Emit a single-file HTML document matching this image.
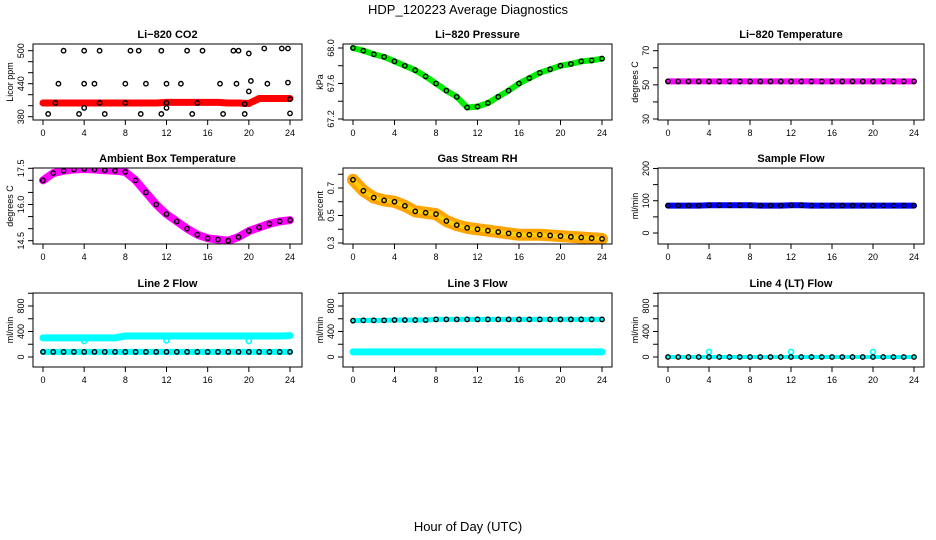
<!DOCTYPE html>
<html><head><meta charset="utf-8"><style>
body{margin:0;background:#fff}
svg{display:block;font-family:"Liberation Sans",sans-serif}
</style></head><body>
<svg id="c" width="936" height="540" viewBox="0 0 936 540">
<text x="468" y="14" text-anchor="middle" font-size="13">HDP_120223  Average Diagnostics</text>
<text x="468" y="531" text-anchor="middle" font-size="13">Hour of Day (UTC)</text>
</svg>
<script>
const hours=[0,1,2,3,4,5,6,7,8,9,10,11,12,13,14,15,16,17,18,19,20,21,22,23,24];
const xTicks=[0,4,8,12,16,20,24];
const co2Red=[405,405,405,405,405,405,405,405,405,405,405,405,406,406,406,406,406,406,405,405,404,413,413,413,413];
const co2ScX=[2,4,5.5,8.5,9.3,11.5,14,15.5,18.5,19,21.5,23.2,23.8,20,1.5,4,5,8,10,12,13.4,17.2,18.8,21.8,23.8,20.2,0.5,3.5,6,9.5,11.5,14.5,17.5,19.6,24,1.2,5.5,8,12,15,19.6,24,20,4,12];
const co2ScY=[500,500,500,500,500,500,500,500,500,500,504,504,504,495,440,440,440,440,440,440,440,440,440,440,442,445,385,385,385,385,385,385,385,385,386,405,405,405,405,405,403,412,426,396,396];
const pres=[68.0,67.97,67.93,67.9,67.85,67.8,67.75,67.68,67.6,67.52,67.45,67.33,67.34,67.38,67.45,67.52,67.6,67.66,67.72,67.76,67.8,67.82,67.85,67.86,67.88];
const tempLi=[52,52,52,52,52,52,52,52,52,52,52,52,52,52,52,52,52,52,52,52,52,52,52,52,52];
const ambient=[17.0,17.3,17.4,17.45,17.47,17.45,17.42,17.4,17.35,17.0,16.5,16.0,15.6,15.3,15.0,14.75,14.6,14.55,14.5,14.65,14.9,15.05,15.2,15.3,15.35];
const rh=[0.76,0.68,0.63,0.61,0.6,0.57,0.53,0.52,0.51,0.46,0.43,0.41,0.4,0.39,0.38,0.37,0.36,0.36,0.36,0.355,0.35,0.345,0.34,0.335,0.33];
const sampleFlow=[85,85,85,85,86,86,86,86,86,85,85,85,86,86,85,85,85,85,85,85,85,85,85,85,85];
const line2Cyan=[300,300,300,300,300,300,300,300,330,330,330,330,330,330,330,330,330,330,330,330,330,330,330,330,335];
const line2Black=[80,80,80,80,80,80,80,80,80,80,80,80,80,80,80,80,80,80,80,80,80,80,80,80,80];
const line3Black=[570,575,575,575,580,580,580,580,590,590,590,590,590,590,590,590,590,590,590,590,590,590,590,590,590];
const line3Cyan=[80,80,80,80,80,80,80,80,80,80,80,80,80,80,80,80,80,80,80,80,80,80,80,80,80];
const line4=[0,0,0,0,0,0,0,0,0,0,0,0,0,0,0,0,0,0,0,0,0,0,0,0,0];
const outX=[4,12,20];
const line2Out=[250,260,250];
const line4Out=[80,80,80];

const NS="http://www.w3.org/2000/svg";
const svg=document.getElementById('c');
function mk(t,a,p){const e=document.createElementNS(NS,t);for(const k in a)e.setAttribute(k,a[k]);(p||svg).appendChild(e);return e;}
const cols=[{x0:43,x24:290,L:33,R:302},{x0:353,x24:602,L:343,R:612},{x0:668,x24:914,L:658,R:924}];
const rows=[{T:44,B:120},{T:168,B:244},{T:293,B:367}];
const panels=[
 {t:"Li\u2212820 CO2",yl:"Licor ppm",c:0,r:0,v1:380,p1:116.7,v2:500,p2:50.7,tk:[380,400,420,440,460,480,500],lb:[380,440,500],
  series:[{y:co2Red,col:"#f00",w:7}],sc:{x:co2ScX,y:co2ScY}},
 {t:"Li\u2212820 Pressure",yl:"kPa",c:1,r:0,v1:67.2,p1:119,v2:68.0,p2:48,tk:[67.2,67.4,67.6,67.8,68.0],lb:[67.2,67.6,68.0],fmt:1,
  series:[{y:pres,col:"#00ee00",w:6}],dots:pres},
 {t:"Li\u2212820 Temperature",yl:"degrees C",c:2,r:0,v1:30,p1:119,v2:70,p2:50.7,tk:[30,40,50,60,70],lb:[30,50,70],
  series:[{y:tempLi,col:"#f0f",w:6}],dots:tempLi},
 {t:"Ambient Box Temperature",yl:"degrees C",c:0,r:1,v1:14.5,p1:240.7,v2:17.5,p2:168.3,tk:[14.5,15,15.5,16,16.5,17,17.5],lb:[14.5,16.0,17.5],fmt:1,
  series:[{y:ambient,col:"#f0f",w:8}],dots:ambient},
 {t:"Gas Stream RH",yl:"percent",c:1,r:1,v1:0.3,p1:243,v2:0.7,p2:188,tk:[0.3,0.4,0.5,0.6,0.7,0.8],lb:[0.3,0.5,0.7],fmt:1,
  series:[{y:rh,col:"#ffa500",w:12},{y:rh,col:"#ffd000",w:4}],dots:rh},
 {t:"Sample Flow",yl:"ml/min",c:2,r:1,v1:0,p1:233,v2:200,p2:168.5,tk:[0,50,100,150,200],lb:[0,100,200],
  series:[{y:sampleFlow,col:"#00f",w:6}],dots:sampleFlow},
 {t:"Line 2 Flow",yl:"ml/min",c:0,r:2,v1:0,p1:357,v2:800,p2:306,tk:[0,200,400,600,800,1000],lb:[0,400,800],
  series:[{y:line2Cyan,col:"#0ff",w:7},{y:line2Black,col:"#0ff",w:6}],dots:line2Black,out:{x:outX,y:line2Out}},
 {t:"Line 3 Flow",yl:"ml/min",c:1,r:2,v1:0,p1:357,v2:800,p2:306,tk:[0,200,400,600,800,1000],lb:[0,400,800],
  series:[{y:line3Cyan,col:"#0ff",w:7},{y:line3Black,col:"#0ff",w:5}],dots:line3Black},
 {t:"Line 4 (LT) Flow",yl:"ml/min",c:2,r:2,v1:0,p1:357,v2:800,p2:306,tk:[0,200,400,600,800,1000],lb:[0,400,800],
  series:[{y:line4,col:"#0ff",w:4}],dots:line4,out:{x:outX,y:line4Out}},
];
panels.forEach(P=>{
 const C=cols[P.c],R=rows[P.r];
 const xs=h=>C.x0+(C.x24-C.x0)*h/24;
 const ys=v=>P.p1+(P.p2-P.p1)*(v-P.v1)/(P.v2-P.v1);
 const g=mk('g',{});
 
 
 const cp='cp'+P.c+P.r;
 const cl=mk('clipPath',{id:cp},g);mk('rect',{x:C.L,y:R.T,width:C.R-C.L,height:R.B-R.T},cl);
 const dg=mk('g',{'clip-path':'url(#'+cp+')'},g);
 P.series.forEach(s=>{
  const pl=mk('polyline',{points:hours.map((h,i)=>xs(h)+','+ys(s.y[i])).join(' '),fill:'none',stroke:s.col,'stroke-width':s.w,'stroke-linecap':'round','stroke-linejoin':'round'},dg);
  
  
 });
 if(P.out){P.out.x.forEach((h,i)=>{
  const oc=mk('circle',{cx:xs(h),cy:ys(P.out.y[i]),r:2.5,fill:'none',stroke:'#0ff','stroke-width':1.6},dg);
  
  
 });}
 const dx=P.dots?hours:(P.sc?P.sc.x:[]), dy=P.dots?P.dots:(P.sc?P.sc.y:[]);
 dx.forEach((h,i)=>{
  const ci=mk('circle',{cx:xs(h),cy:ys(dy[i]),r:2.2,fill:'none',stroke:'#000','stroke-width':1.4},dg);
  
  
 });
 const box=mk('rect',{x:C.L,y:R.T,width:C.R-C.L,height:R.B-R.T,fill:'none',stroke:'#000','stroke-width':1},g);
 
 
 const tt=mk('text',{x:(C.L+C.R)/2,y:R.T-6,'text-anchor':'middle','font-size':11,'font-weight':'bold'},g);tt.textContent=P.t;
 
 
 xTicks.forEach(h=>{
  mk('line',{x1:xs(h),x2:xs(h),y1:R.B,y2:R.B+5,stroke:'#000'},g);
  const t=mk('text',{x:xs(h),y:R.B+16,'text-anchor':'middle','font-size':9},g);t.textContent=h;
  
  
 });
 P.tk.forEach(v=>{const y=ys(v);if(y<R.T-1||y>R.B+1)return;mk('line',{x1:C.L-5,x2:C.L,y1:y,y2:y,stroke:'#000'},g);});
 P.lb.forEach(v=>{const y=ys(v);
  const t=mk('text',{x:0,y:0,'text-anchor':'middle','font-size':9,transform:`translate(${C.L-9},${y}) rotate(-90)`},g);
  t.textContent=P.fmt?v.toFixed(1):v;
  
  
 });
 const yl=mk('text',{x:0,y:0,'text-anchor':'middle','font-size':9,transform:`translate(${C.L-20},${(R.T+R.B)/2}) rotate(-90)`},g);
 yl.textContent=P.yl;
 
 
});
</script>
</body></html>
